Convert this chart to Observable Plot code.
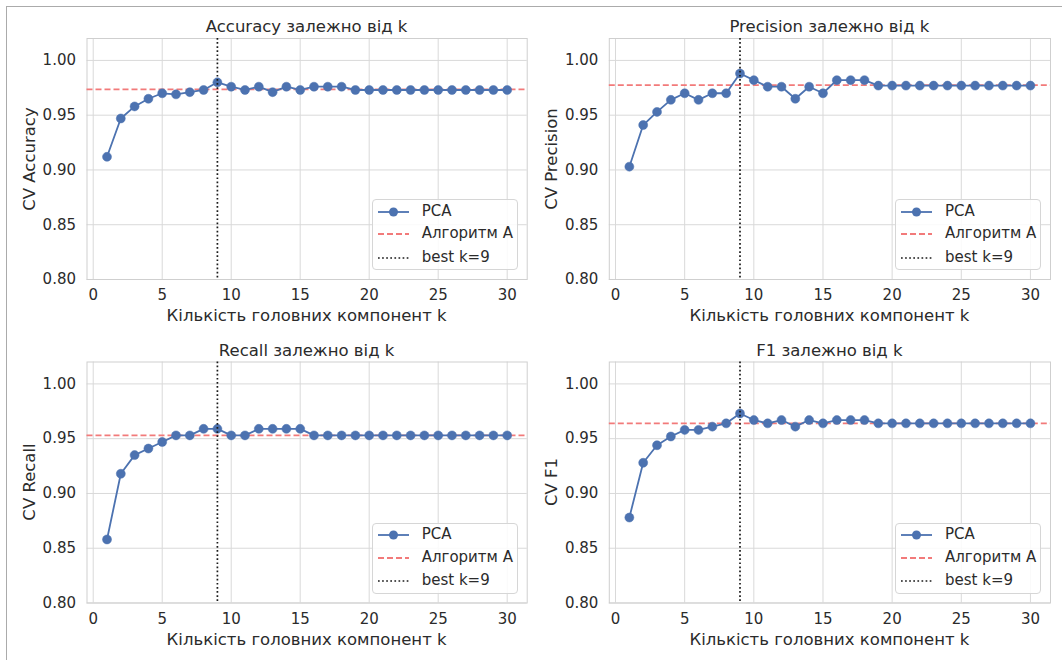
<!DOCTYPE html>
<html><head><meta charset="utf-8">
<script src="https://cdn.jsdelivr.net/npm/d3@7"></script>
<script src="https://cdn.jsdelivr.net/npm/@observablehq/plot@0.6"></script>
<style>
body{margin:0;background:#fff;font-family:"DejaVu Sans",sans-serif;color:#2b2b2b;}
#root{position:relative;width:1062px;height:660px;overflow:hidden;background:#fff;}
#border{position:absolute;left:6px;top:6px;width:1100px;height:700px;border:1.5px solid #ababab;}
.svgwrap{position:absolute;}
.lbl{position:absolute;transform:translate(-50%,-50%);white-space:nowrap;font-size:16.5px;line-height:1;}
.ylbl{position:absolute;transform:translate(-50%,-50%) rotate(-90deg);white-space:nowrap;font-size:16.5px;line-height:1;}
.legend{position:absolute;width:146px;height:71px;box-sizing:border-box;border:1px solid #d6d6d6;border-radius:4px;background:rgba(255,255,255,0.85);}
.legend .item{position:absolute;left:0;font-size:15px;line-height:1;white-space:nowrap;}
.legend svg{position:absolute;left:4px;top:-6px;}
.legend span{position:absolute;left:49px;top:-8px;}
</style></head>
<body><div id="root"><div id="border"></div></div>
<script>
// ---- data ----
const kValues = [1,2,3,4,5,6,7,8,9,10,11,12,13,14,15,16,17,18,19,20,21,22,23,24,25,26,27,28,29,30];
const accuracy = [0.912,0.947,0.958,0.965,0.970,0.969,0.971,0.973,0.980,0.976,0.973,0.976,0.971,0.976,0.973,0.976,0.976,0.976,
  0.973,0.973,0.973,0.973,0.973,0.973,0.973,0.973,0.973,0.973,0.973,0.973];
const precision = [0.903,0.941,0.953,0.964,0.970,0.964,0.970,0.970,0.988,0.982,0.976,0.976,0.965,0.976,0.970,0.982,0.982,0.982,
  0.977,0.977,0.977,0.977,0.977,0.977,0.977,0.977,0.977,0.977,0.977,0.977];
const recall = [0.858,0.918,0.935,0.941,0.947,0.953,0.953,0.959,0.959,0.953,0.953,0.959,0.959,0.959,0.959,
  0.953,0.953,0.953,0.953,0.953,0.953,0.953,0.953,0.953,0.953,0.953,0.953,0.953,0.953,0.953];
const f1 = [0.878,0.928,0.944,0.952,0.958,0.958,0.961,0.964,0.973,0.967,0.964,0.967,0.961,0.967,0.964,0.967,0.967,0.967,
  0.964,0.964,0.964,0.964,0.964,0.964,0.964,0.964,0.964,0.964,0.964,0.964];
const refAccuracy = 0.9735, refPrecision = 0.9775, refRecall = 0.953, refF1 = 0.964;
const bestK = 9;
const metricNames = ["Accuracy","Precision","Recall","F1"];
const xTicks = [0,5,10,15,20,25,30];
const yTicks = [0.80,0.85,0.90,0.95,1.00];
const xLabel = "Кількість головних компонент k";
const legendLabels = ["PCA","Алгоритм A","best k=" + bestK];

// ---- layout ----
const panels = [
  {name:metricNames[0], values:accuracy,  ref:refAccuracy,  left:0,   top:0,   ml:86.5, mr:4.3, mt:38,   mb:51},
  {name:metricNames[1], values:precision, ref:refPrecision, left:531, top:0,   ml:77.8, mr:12,  mt:38,   mb:51},
  {name:metricNames[2], values:recall,    ref:refRecall,    left:0,   top:330, ml:86.5, mr:4.3, mt:31.5, mb:57.5},
  {name:metricNames[3], values:f1,        ref:refF1,        left:531, top:330, ml:77.8, mr:12,  mt:31.5, mb:57.5}
];
const W = 531, H = 330;
const blue = "#4c72b0", red = "#f27a7a";
const root = document.getElementById("root");

function add(cls, text, x, y){
  const d = document.createElement("div");
  d.className = cls; d.textContent = text;
  d.style.left = x + "px"; d.style.top = y + "px";
  root.appendChild(d); return d;
}

panels.forEach(p => {
  const data = kValues.map((k,i) => ({k, v:p.values[i]}));
  const svg = Plot.plot({
    width:W, height:H, marginLeft:p.ml, marginRight:p.mr, marginTop:p.mt, marginBottom:p.mb,
    x:{domain:[-0.45,31.45]},
    y:{domain:[0.8,1.02]},
    style:{fontFamily:"DejaVu Sans", fontSize:"15px", color:"#2b2b2b", background:"transparent"},
    marks:[
      Plot.gridX(xTicks,{stroke:"#d9d9d9", strokeOpacity:1, strokeWidth:1}),
      Plot.gridY(yTicks,{stroke:"#d9d9d9", strokeOpacity:1, strokeWidth:1}),
      Plot.frame({stroke:"#cfcfcf", strokeWidth:1}),
      Plot.axisX(xTicks,{tickSize:0, tickPadding:10, label:null, tickFormat:d => String(d)}),
      Plot.axisY(yTicks,{tickSize:0, tickPadding:11, label:null, tickFormat:d3.format(".2f")}),
      Plot.ruleY([p.ref],{stroke:red, strokeWidth:1.8, strokeDasharray:"6,3"}),
      Plot.line(data,{x:"k", y:"v", stroke:blue, strokeWidth:1.8}),
      Plot.dot(data,{x:"k", y:"v", r:4.5, fill:blue, stroke:blue, strokeWidth:0.5}),
      Plot.ruleX([bestK],{stroke:"#1a1a1a", strokeWidth:1.7, strokeDasharray:"1.7,2.4"})
    ]
  });
  const wrap = document.createElement("div");
  wrap.className = "svgwrap";
  wrap.style.left = p.left + "px"; wrap.style.top = p.top + "px";
  wrap.appendChild(svg);
  root.appendChild(wrap);

  const axL = p.left + p.ml, axR = p.left + W - p.mr;
  const axT = p.top + p.mt, axB = p.top + H - p.mb;
  const cx = (axL + axR) / 2, cy = (axT + axB) / 2;
  add("lbl", p.name + " залежно від k", cx, axT - 11);
  add("lbl", xLabel, cx, axB + 37);
  add("ylbl", "CV " + p.name, axL - 56.5, cy);

  // legend
  const lg = document.createElement("div");
  lg.className = "legend";
  lg.style.left = (axR - 9 - 146) + "px";
  lg.style.top = (axB - 9 - 71) + "px";
  const rows = [11.5, 34, 57.5];
  const samples = [
    `<line x1="1" x2="32" y1="6" y2="6" stroke="${blue}" stroke-width="1.8"/><circle cx="16.5" cy="6" r="4.5" fill="${blue}"/>`,
    `<line x1="1" x2="32" y1="6" y2="6" stroke="${red}" stroke-width="1.8" stroke-dasharray="6,3"/>`,
    `<line x1="1" x2="32" y1="6" y2="6" stroke="#1a1a1a" stroke-width="1.7" stroke-dasharray="1.7,2.4"/>`
  ];
  legendLabels.forEach((t,i) => {
    const it = document.createElement("div");
    it.className = "item";
    it.style.top = rows[i] + "px";
    it.innerHTML = `<svg width="34" height="12">${samples[i]}</svg>`;
    const s = document.createElement("span");
    s.textContent = t;
    it.appendChild(s);
    lg.appendChild(it);
  });
  root.appendChild(lg);
});
</script>
</body></html>
